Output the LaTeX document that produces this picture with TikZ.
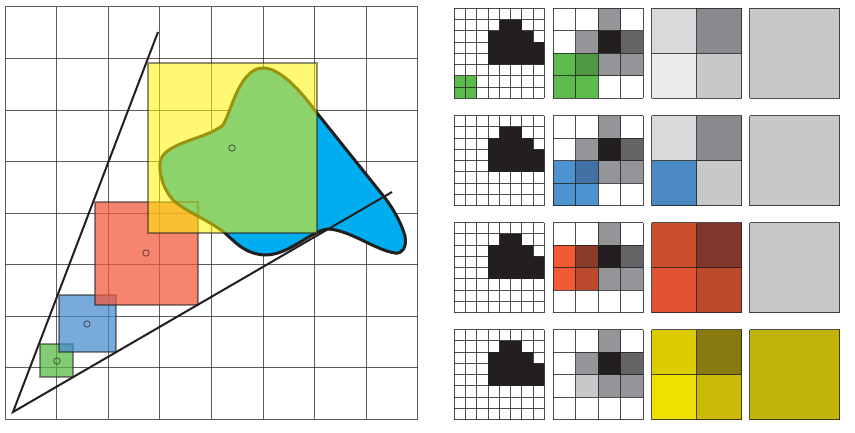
\documentclass[tikz,border=0pt]{standalone}
\usepackage{xcolor}
\definecolor{inkblack}{HTML}{231F20}
\definecolor{blobblue}{HTML}{00AEEF}
\definecolor{mipyellow}{HTML}{FFF200}
\definecolor{mipred}{HTML}{F25638}
\definecolor{mipblue}{HTML}{448BCF}
\definecolor{mipgreen}{HTML}{52BA3E}
\definecolor{greencell}{HTML}{5DBB4E}
\definecolor{greendark}{HTML}{4F9740}
\definecolor{bluecell}{HTML}{4D93D0}
\definecolor{bluedark}{HTML}{4272A3}
\definecolor{redcell}{HTML}{F15A32}
\definecolor{reddark}{HTML}{8A3B2A}
\definecolor{redmid}{HTML}{BC4A2E}
\definecolor{midgray}{HTML}{939598}
\definecolor{darkgray}{HTML}{636466}
\definecolor{grayA}{HTML}{D8D9DB}
\definecolor{grayB}{HTML}{898A8D}
\definecolor{grayC}{HTML}{EBEBED}
\definecolor{grayD}{HTML}{C7C8CA}
\definecolor{mixblue}{HTML}{4A89C2}
\definecolor{mixredA}{HTML}{CB4E2D}
\definecolor{mixredB}{HTML}{80362A}
\definecolor{mixredC}{HTML}{E25332}
\definecolor{mixredD}{HTML}{BE4A2E}
\definecolor{mixyelA}{HTML}{DBCB00}
\definecolor{mixyelB}{HTML}{887A10}
\definecolor{mixyelC}{HTML}{EEE000}
\definecolor{mixyelD}{HTML}{C8BA05}
\definecolor{mixyelE}{HTML}{C1B307}
\tikzset{
    gridline/.style={draw=inkblack, line width=1pt, opacity=0.72},
    wedgeline/.style={draw=inkblack, line width=2pt},
    footprint/.style={fill opacity=0.72, draw=none},
    footedge/.style={draw=inkblack, line width=1.3pt, opacity=0.5},
    centremark/.style={draw=inkblack, line width=0.8pt, opacity=0.7},
    cellline/.style={draw=inkblack, line width=1pt, opacity=0.8}
}
\newcommand{\blobpath}{(263,68) .. controls (280,68) and (300,90) .. (317,113)
    -- (381,193) .. controls (392,206) and (401,222) .. (405,236)
    .. controls (407,248) and (402,254) .. (395,253)
    .. controls (375,250) and (350,230) .. (328,229)
    .. controls (310,231) and (290,255) .. (265,255)
    .. controls (245,254) and (235,242) .. (225,233)
    .. controls (207,219) and (186,212) .. (173,200)
    .. controls (164,190) and (159,175) .. (160,163)
    .. controls (162,143) and (203,140) .. (222,126)
    .. controls (230,118) and (238,68) .. (263,68) -- cycle}
% #1 left, #2 top, #3 cells per side, #4 list of col/row/colour
\newcommand{\cellgrid}[4]{
    \begin{scope}[shift={(#1,#2)}]
        \pgfmathsetmacro{\cellsize}{90/#3}
        \foreach \c/\r/\f in {#4}{
            \fill[\f] ({\c*\cellsize},{\r*\cellsize}) rectangle ({(\c+1)*\cellsize},{(\r+1)*\cellsize});
        }
        \foreach \i in {0,...,#3}{
            \draw[cellline] ({\i*\cellsize},0) -- ({\i*\cellsize},90);
            \draw[cellline] (0,{\i*\cellsize}) -- (90,{\i*\cellsize});
        }
    \end{scope}
}
% the shape at the finest level
\newcommand{\shapefill}[1]{
    \fill[inkblack,shift={(454.4,#1)}] (45,11.25) -- (67.5,11.25) -- (67.5,22.5) -- (78.75,22.5) -- (78.75,33.75)
        -- (90,33.75) -- (90,56.25) -- (33.75,56.25) -- (33.75,22.5) -- (45,22.5) -- cycle;
}
\begin{document}
\begin{tikzpicture}[x=1pt,y=-1pt]
\useasboundingbox (0,0) rectangle (855,432);
% grid
\foreach \i in {0,...,8}{
    \draw[gridline] ({5+51.6*\i},6.9) -- ({5+51.6*\i},419.3);
    \draw[gridline] (5,{6.9+51.55*\i}) -- (417.8,{6.9+51.55*\i});
}
% footprints, smallest first
\fill[footprint, fill=mipgreen] (40,344) rectangle (73,377);
\draw[footedge] (40,344) rectangle (73,377);
\fill[footprint, fill=mipblue] (59,295) rectangle (116,352);
\draw[footedge] (59,295) rectangle (116,352);
\fill[footprint, fill=mipred] (95,202) rectangle (198,305);
% blob
\filldraw[fill=blobblue, draw=inkblack, line width=3pt] \blobpath;
\draw[footedge] (95,202) rectangle (198,305);
% wedge
\coordinate (apex) at (13,412);
\coordinate (wedgeA) at (158,32);
\coordinate (wedgeB) at (392,192);
\draw[wedgeline] (wedgeA) -- (apex) -- (wedgeB);
\fill[fill=mipyellow, fill opacity=0.55] (148,63) rectangle (317,233);
\draw[footedge] (148,63) rectangle (317,233);
\draw[centremark] (232,148) circle (3.2) (146,253) circle (3.2) (87,324) circle (3.2) (57,361) circle (3.2);
% first row
\shapefill{8.3}
\cellgrid{454.4}{8.3}{8}{0/6/greencell,1/6/greencell,0/7/greencell,1/7/greencell}
\cellgrid{553.2}{8.3}{4}{2/0/midgray,1/1/midgray,2/1/inkblack,3/1/darkgray,0/2/greencell,1/2/greendark,2/2/midgray,3/2/midgray,0/3/greencell,1/3/greencell}
\cellgrid{651.7}{8.3}{2}{0/0/grayA,1/0/grayB,0/1/grayC,1/1/grayD}
\cellgrid{749.8}{8.3}{1}{0/0/grayD}
% second row
\shapefill{115.6}
\cellgrid{454.4}{115.6}{8}{0/0/white}
\cellgrid{553.2}{115.6}{4}{2/0/midgray,1/1/midgray,2/1/inkblack,3/1/darkgray,0/2/bluecell,1/2/bluedark,2/2/midgray,3/2/midgray,0/3/bluecell,1/3/bluecell}
\cellgrid{651.7}{115.6}{2}{0/0/grayA,1/0/grayB,0/1/mixblue,1/1/grayD}
\cellgrid{749.8}{115.6}{1}{0/0/grayD}
% third row
\shapefill{222.7}
\cellgrid{454.4}{222.7}{8}{0/0/white}
\cellgrid{553.2}{222.7}{4}{2/0/midgray,0/1/redcell,1/1/reddark,2/1/inkblack,3/1/darkgray,0/2/redcell,1/2/redmid,2/2/midgray,3/2/midgray}
\cellgrid{651.7}{222.7}{2}{0/0/mixredA,1/0/mixredB,0/1/mixredC,1/1/mixredD}
\cellgrid{749.8}{222.7}{1}{0/0/grayD}
% fourth row
\shapefill{329.7}
\cellgrid{454.4}{329.7}{8}{0/0/white}
\cellgrid{553.2}{329.7}{4}{2/0/midgray,1/1/midgray,2/1/inkblack,3/1/darkgray,1/2/grayD,2/2/midgray,3/2/midgray}
\cellgrid{651.7}{329.7}{2}{0/0/mixyelA,1/0/mixyelB,0/1/mixyelC,1/1/mixyelD}
\cellgrid{749.8}{329.7}{1}{0/0/mixyelE}
\end{tikzpicture}
\end{document}
